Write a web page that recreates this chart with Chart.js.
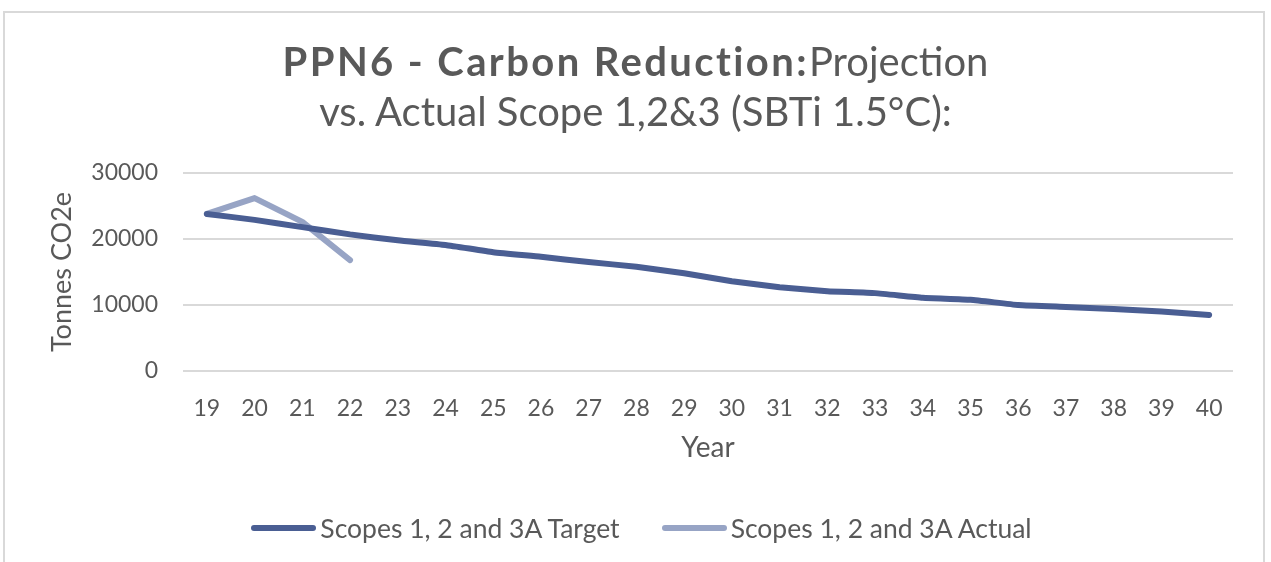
<!DOCTYPE html>
<html>
<head>
<meta charset="utf-8">
<script src="https://cdn.jsdelivr.net/npm/chart.js@4/dist/chart.umd.min.js"></script>
<style>
  body { margin: 0; background: #fff; font-family: Lato, sans-serif; color: #595959; }
  #wrap { position: relative; width: 1271px; height: 562px; overflow: hidden; }
  #frame { position: absolute; left: 3px; top: 11px; width: 1262px; height: 600px; border: 2px solid #d9d9d9; box-sizing: border-box; }
  #title { position: absolute; left: 0; top: 36px; width: 1271px; text-align: center; font-size: 40px; line-height: 50px; color: #595959; }
  #title b { font-weight: 700; letter-spacing: 2.4px; }
  #legend { position: absolute; left: 6px; top: 512px; width: 1271px; display: flex; justify-content: center; gap: 42px; font-size: 26.5px; color: #595959; }
  .item { display: flex; align-items: center; gap: 4px; }
  .swatch { display: inline-block; width: 65px; height: 6px; border-radius: 3px; }
  canvas { position: absolute; left: 0; top: 0; }
</style>
</head>
<body>
<div id="wrap">
  <div id="frame"></div>
  <canvas id="chart" width="1271" height="562"></canvas>
  <div id="title"><b>PPN6 - Carbon Reduction:</b>Projection<br>vs. Actual Scope 1,2&amp;3 (SBTi 1.5°C):</div>
  <div id="legend"></div>
</div>
<script>
const years = ['19', '20', '21', '22', '23', '24', '25', '26', '27', '28', '29', '30',
  '31', '32', '33', '34', '35', '36', '37', '38', '39', '40']
const targetValues = [23800, 22900, 21800, 20700, 19800, 19100, 18000, 17300, 16500, 15800, 14800,
  13600, 12700, 12100, 11800, 11100, 10800, 10000, 9700, 9400, 9000, 8500]
const actualValues = [23800, 26200, 22600, 16800]
const yTicks = [0, 10000, 20000, 30000]

const textColor = '#595959'
const targetColor = '#4a5e93'
const actualColor = '#97a4c5'

// html legend, built from the datasets after each update
const htmlLegend = {
  id: 'htmlLegend',
  afterUpdate(chart) {
    const box = document.getElementById('legend')
    box.innerHTML = ''
    chart.data.datasets.forEach((ds) => {
      const item = document.createElement('span')
      item.className = 'item'
      const swatch = document.createElement('span')
      swatch.className = 'swatch'
      swatch.style.background = ds.borderColor
      const label = document.createElement('span')
      label.textContent = ds.label
      item.appendChild(swatch)
      item.appendChild(label)
      box.appendChild(item)
    })
  },
}

new Chart(document.getElementById('chart'), {
  type: 'line',
  data: {
    labels: years,
    datasets: [
      {
        label: 'Scopes 1, 2 and 3A Target',
        data: targetValues,
        borderColor: targetColor,
        backgroundColor: targetColor,
        borderWidth: 6,
        borderCapStyle: 'round',
        borderJoinStyle: 'round',
        pointRadius: 0,
        tension: 0.15,
      },
      {
        label: 'Scopes 1, 2 and 3A Actual',
        data: actualValues,
        borderColor: actualColor,
        backgroundColor: actualColor,
        borderWidth: 6,
        borderCapStyle: 'round',
        borderJoinStyle: 'round',
        pointRadius: 0,
        tension: 0,
      },
    ],
  },
  plugins: [htmlLegend],
  options: {
    responsive: false,
    animation: false,
    layout: { padding: { left: 40, right: 38, top: 173, bottom: 91 } },
    plugins: {
      legend: { display: false },
      title: { display: false },
      tooltip: { enabled: false },
    },
    scales: {
      x: {
        offset: true,
        grid: { display: false, drawTicks: false },
        border: { display: false },
        ticks: { padding: 24, color: textColor, font: { family: 'Lato', size: 23 } },
        title: {
          display: true,
          text: 'Year',
          color: textColor,
          font: { family: 'Lato', size: 28 },
          padding: { top: 0, bottom: 6 },
        },
        afterFit(scale) { scale.height = 100 },
      },
      y: {
        min: 0,
        max: 30000,
        grid: { color: '#d9d9d9', lineWidth: 2, drawTicks: false },
        border: { display: false },
        afterBuildTicks(scale) { scale.ticks = yTicks.map((v) => ({ value: v })) },
        ticks: {
          padding: 25,
          color: textColor,
          font: { family: 'Lato', size: 23 },
          callback: (v) => String(v),
        },
        title: {
          display: true,
          text: 'Tonnes CO2e',
          color: textColor,
          font: { family: 'Lato', size: 27 },
          padding: { top: 6, bottom: 0 },
        },
        afterFit(scale) { scale.width = 143 },
      },
    },
  },
})
</script>
</body>
</html>
